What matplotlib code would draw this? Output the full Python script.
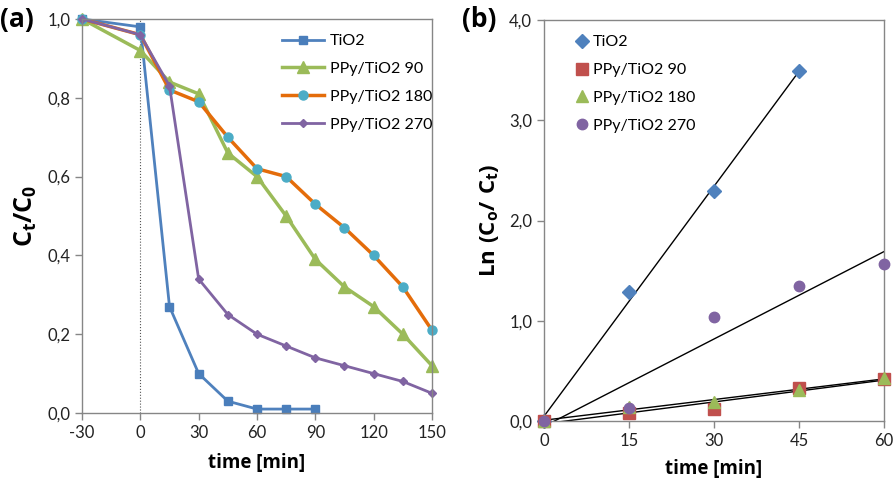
import numpy as np
import matplotlib
matplotlib.use('Agg')
import matplotlib.pyplot as plt
from matplotlib.ticker import FuncFormatter

plt.rcParams['font.family'] = ['Lato', 'DejaVu Sans']
plt.rcParams['mathtext.fontset'] = 'custom'
plt.rcParams['mathtext.rm'] = 'Open Sans'
plt.rcParams['mathtext.bf'] = 'Open Sans:bold'
plt.rcParams['axes.unicode_minus'] = False

# (a) relative concentration vs time
t_a = [-30, 0, 15, 30, 45, 60, 75, 90, 105, 120, 135, 150]
tio2_a = [1.0, 0.98, 0.27, 0.10, 0.03, 0.01, 0.01, 0.01]
ppy90_a = [1.0, 0.92, 0.84, 0.81, 0.66, 0.60, 0.50, 0.39, 0.32, 0.27, 0.20, 0.12]
ppy180_a = [1.0, 0.96, 0.82, 0.79, 0.70, 0.62, 0.60, 0.53, 0.47, 0.40, 0.32, 0.21]
ppy270_a = [1.0, 0.96, 0.83, 0.34, 0.25, 0.20, 0.17, 0.14, 0.12, 0.10, 0.08, 0.05]

# (b) ln(C0/Ct) vs time
t_b = [0, 15, 30, 45, 60]
tio2_b = [0.0, 1.29, 2.29, 3.49]
ppy90_b = [0.0, 0.08, 0.12, 0.33, 0.42]
ppy180_b = [0.0, 0.14, 0.19, 0.31, 0.43]
ppy270_b = [0.0, 0.13, 1.04, 1.35, 1.57]

labels = ['TiO2', 'PPy/TiO2 90', 'PPy/TiO2 180', 'PPy/TiO2 270']

blue = '#4F81BD'
red = '#C0504D'
green = '#9BBB59'
purple = '#8064A2'
orange = '#E46C0A'
cyan = '#4BACC6'
frame = '#868686'
bold_font = dict(family='Open Sans', fontweight='bold')

comma = FuncFormatter(lambda v, p: ('%.1f' % v).replace('.', ','))

fig = plt.figure(figsize=(8.95, 4.83), dpi=100)
ax1 = fig.add_axes([82/895, 1-413/483, 350/895, 394/483])
ax2 = fig.add_axes([544/895, 1-421/483, 340/895, 401/483])

# panel (a)
ax1.axvline(0, ymin=0, ymax=1, color='#555555', lw=0.8, ls=':', zorder=1)
a_lines = []
a_lines += ax1.plot(t_a[:len(tio2_a)], tio2_a, '-s', color=blue, mfc='#4A7EBB', mec='#4A7EBB', lw=2, ms=6, label=labels[0])
a_lines += ax1.plot(t_a, ppy90_a, '-^', color=green, lw=2.5, ms=8, label=labels[1])
a_lines += ax1.plot(t_a, ppy180_a, '-o', color=orange, mfc=cyan, mec=cyan, lw=2.5, ms=6.5, label=labels[2])
a_lines += ax1.plot(t_a, ppy270_a, '-D', color=purple, lw=2, ms=4, label=labels[3])
for ln in a_lines:
    ln.set_clip_on(False)
ax1.set_xlim(-30, 150)
ax1.set_ylim(0, 1.0)
ax1.set_xticks(np.arange(-30, 151, 30))
ax1.set_yticks(np.arange(0, 1.01, 0.2))
ax1.yaxis.set_major_formatter(comma)
ax1.set_xlabel('time [min]', fontsize=13.5, labelpad=9, **bold_font)
ax1.set_ylabel(r'$\mathbf{C_t/C_0}$', fontsize=18, labelpad=6)
ax1.legend(loc='upper left', frameon=False, fontsize=11.5, handlelength=2.6,
           handletextpad=0.4, labelspacing=0.85, bbox_to_anchor=(0.54, 0.99), borderaxespad=0.3)
ax1.text(-0.235, 1.0, '(a)', transform=ax1.transAxes, fontsize=19, va='center', **bold_font)

# panel (b)
series_b = [(tio2_b, 'D', blue, 7), (ppy90_b, 's', red, 8), (ppy180_b, '^', green, 8), (ppy270_b, 'o', purple, 7.5)]
for (y, m, c, s), lab in zip(series_b, labels):
    x = np.array(t_b[:len(y)])
    pts = ax2.plot(x, y, ls='none', marker=m, color=c, ms=s, label=lab, zorder=3)
    pts[0].set_clip_on(False)
    # linear trend over the measured range
    k, b0 = np.polyfit(x, y, 1)
    ax2.plot([x[0], x[-1]], [b0 + k*x[0], b0 + k*x[-1]], color='black', lw=1, zorder=2)
ax2.set_xlim(0, 60)
ax2.set_ylim(0, 4.0)
ax2.set_xticks(t_b)
ax2.set_yticks(np.arange(0, 4.01, 1.0))
ax2.yaxis.set_major_formatter(comma)
ax2.set_xlabel('time [min]', fontsize=13.5, labelpad=7, **bold_font)
ax2.set_ylabel(r'$\mathbf{Ln\ (C_o/\ C_t)}$', fontsize=16, labelpad=6)
ax2.legend(loc='upper left', frameon=False, fontsize=11.5, handlelength=0.8,
           handletextpad=0.3, labelspacing=0.85, bbox_to_anchor=(0.06, 0.99), borderaxespad=0.3)
ax2.text(-0.24, 1.0, '(b)', transform=ax2.transAxes, fontsize=19, va='center', **bold_font)

for ax in (ax1, ax2):
    for sp in ax.spines.values():
        sp.set_color(frame)
        sp.set_linewidth(1)
    ax.tick_params(direction='out', color=frame, length=5, width=1, labelsize=12, labelcolor='#222222')

fig.savefig('out.png', dpi=100)
